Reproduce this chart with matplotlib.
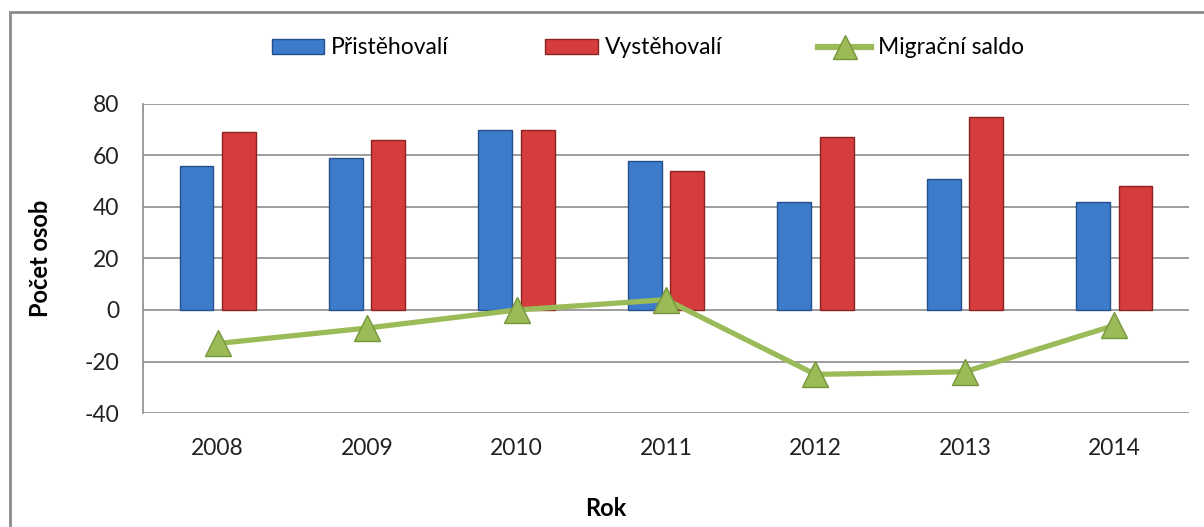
import numpy as np
import matplotlib
matplotlib.use("Agg")
import matplotlib.pyplot as plt
from matplotlib.patches import Rectangle
from matplotlib.lines import Line2D

plt.rcParams['font.family'] = ['Lato', 'DejaVu Sans']
plt.rcParams['axes.unicode_minus'] = False

years = ['2008', '2009', '2010', '2011', '2012', '2013', '2014']
prist = [56, 59, 70, 58, 42, 51, 42]
vyst = [69, 66, 70, 54, 67, 75, 48]
saldo = [-13, -7, 0, 4, -25, -24, -6]

blue, blue_edge = '#3d7bcc', '#24508c'
red, red_edge = '#d43d3c', '#8e2221'
green, green_dark = '#9bbb59', '#76963a'
grid_c = '#8c8c8c'
fs = 16.5

fig = plt.figure(figsize=(12.04, 5.27), dpi=100)
ax = fig.add_axes([0.1188, 0.2163, 0.8687, 0.5864])

x = np.arange(len(years))
w = 0.227
off = 0.142
ax.bar(x - off, prist, w, color=blue, edgecolor=blue_edge, linewidth=1, zorder=3)
ax.bar(x + off, vyst, w, color=red, edgecolor=red_edge, linewidth=1, zorder=3)
ax.plot(x, saldo, color=green, linewidth=3.8, marker='^', markersize=19,
        markerfacecolor=green, markeredgecolor=green_dark, markeredgewidth=1, zorder=4)

ax.set_xlim(-0.5, len(years) - 0.5)
ax.set_ylim(-40, 80)
ax.set_yticks(range(-40, 81, 20))
ax.set_xticks(x)
ax.set_xticklabels(years)
ax.yaxis.grid(True, color=grid_c, linewidth=1.2, zorder=0)
ax.set_axisbelow(True)
for s in ['top', 'right', 'bottom']:
    ax.spines[s].set_visible(False)
ax.spines['left'].set_color(grid_c)
ax.spines['left'].set_linewidth(1.2)
ax.tick_params(axis='both', length=0, labelsize=fs, colors='#222222')
ax.tick_params(axis='y', pad=17)
ax.tick_params(axis='x', pad=18)

ax.set_ylabel('Počet osob', fontsize=17, fontweight='bold')
ax.yaxis.set_label_coords(-0.087, 0.5)
ax.set_xlabel('Rok', fontsize=17, fontweight='bold')
ax.xaxis.set_label_coords(0.442, -0.272)

handles = [Rectangle((0, 0), 1, 1, facecolor=blue, edgecolor=blue_edge),
           Rectangle((0, 0), 1, 1, facecolor=red, edgecolor=red_edge),
           Line2D([], [], color=green, linewidth=4.5, marker='^', markersize=17,
                  markerfacecolor=green, markeredgecolor=green_dark)]
fig.legend(handles, ['Přistěhovalí', 'Vystěhovalí', 'Migrační saldo'],
           loc='center', bbox_to_anchor=(0.538, 0.909), ncol=3, frameon=False,
           fontsize=fs, handlelength=2.3, handleheight=0.6, handletextpad=0.3,
           columnspacing=4.2)

# outer chart frame
fig.patches.append(Rectangle((10 / 1204, -0.01), 1.0, 1 - 12 / 527 + 0.01,
                             transform=fig.transFigure, fill=False,
                             edgecolor='#8a8a8a', linewidth=2))

fig.savefig('out.png', dpi=100)
